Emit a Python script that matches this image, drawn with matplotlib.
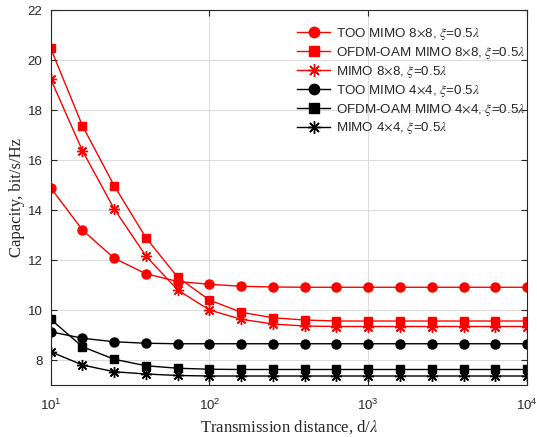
import numpy as np
import matplotlib
matplotlib.use("Agg")
import matplotlib.pyplot as plt

# data
k = np.arange(16)
distance = 10 ** (1 + 0.2 * k)

too_8 = [14.89, 13.20, 12.07, 11.45, 11.14, 11.03, 10.95, 10.92, 10.91, 10.91,
         10.91, 10.91, 10.91, 10.91, 10.91, 10.91]
ofdm_8 = [20.47, 17.37, 14.97, 12.89, 11.31, 10.40, 9.91, 9.69, 9.60, 9.56,
          9.56, 9.56, 9.56, 9.56, 9.56, 9.56]
mimo_8 = [19.24, 16.37, 14.04, 12.16, 10.80, 10.00, 9.63, 9.44, 9.36, 9.34,
          9.34, 9.34, 9.34, 9.34, 9.34, 9.34]
too_4 = [9.13, 8.87, 8.73, 8.67, 8.65, 8.65, 8.65, 8.65, 8.65, 8.65,
         8.65, 8.65, 8.65, 8.65, 8.65, 8.65]
ofdm_4 = [9.63, 8.53, 8.03, 7.77, 7.67, 7.63, 7.62, 7.62, 7.62, 7.62,
          7.62, 7.62, 7.62, 7.62, 7.62, 7.62]
mimo_4 = [8.33, 7.80, 7.53, 7.44, 7.38, 7.36, 7.36, 7.36, 7.36, 7.36,
          7.36, 7.36, 7.36, 7.36, 7.36, 7.36]

labels = [
    r"TOO MIMO 8$\times$8, $\xi$=0.5$\lambda$",
    r"OFDM-OAM MIMO 8$\times$8, $\xi$=0.5$\lambda$",
    r"MIMO 8$\times$8, $\xi$=0.5$\lambda$",
    r"TOO MIMO 4$\times$4, $\xi$=0.5$\lambda$",
    r"OFDM-OAM MIMO 4$\times$4, $\xi$=0.5$\lambda$",
    r"MIMO 4$\times$4, $\xi$=0.5$\lambda$",
]

plt.rcParams['font.family'] = ['Liberation Sans', 'DejaVu Sans']
plt.rcParams['mathtext.fontset'] = 'stix'

fig = plt.figure(figsize=(5.37, 4.37), dpi=100)
ax = fig.add_axes([0.0944, 0.119, 0.887, 0.858])

ast = (8, 2, 0)
series = [
    (too_8, 'red', 'o', 6.5),
    (ofdm_8, 'red', 's', 6),
    (mimo_8, 'red', ast, 8),
    (too_4, 'black', 'o', 6.5),
    (ofdm_4, 'black', 's', 6),
    (mimo_4, 'black', ast, 8),
]
for (vals, c, m, ms), lab in zip(series, labels):
    ax.plot(distance, vals, color=c, marker=m, markersize=ms, lw=1.0,
            markeredgewidth=1.0, markerfacecolor=c, markeredgecolor=c, label=lab)

ax.set_xscale('log')
ax.set_xlim(10, 1e4)
ax.set_ylim(7, 22)
ax.set_yticks([8, 10, 12, 14, 16, 18, 20, 22])
ax.xaxis.set_minor_locator(matplotlib.ticker.NullLocator())
ax.grid(True, which='major', color='#dcdcdc', lw=0.8)
ax.set_axisbelow(True)
ax.tick_params(direction='in', top=True, right=True, length=4, width=0.8,
               labelsize=9.5, colors='#262626')
ax.tick_params(axis='x', pad=9)
ax.tick_params(axis='y', pad=6)
for s in ax.spines.values():
    s.set_color('#262626')
    s.set_linewidth(0.8)

ax.set_xlabel(r"Transmission distance, d/$\lambda$", family='Liberation Serif',
              fontsize=12, color='#262626', labelpad=4)
ax.set_ylabel("Capacity, bit/s/Hz", family='Liberation Serif', fontsize=12,
              color='#262626', labelpad=2)

leg = ax.legend(loc='upper left', bbox_to_anchor=(0.517, 0.958), frameon=False,
                fontsize=9.6, handlelength=2.5, handletextpad=0.4, labelspacing=0.22,
                borderpad=0, borderaxespad=0, markerscale=1.15)
for t in leg.get_texts():
    t.set_color('#262626')

fig.savefig('out.png', dpi=100)
